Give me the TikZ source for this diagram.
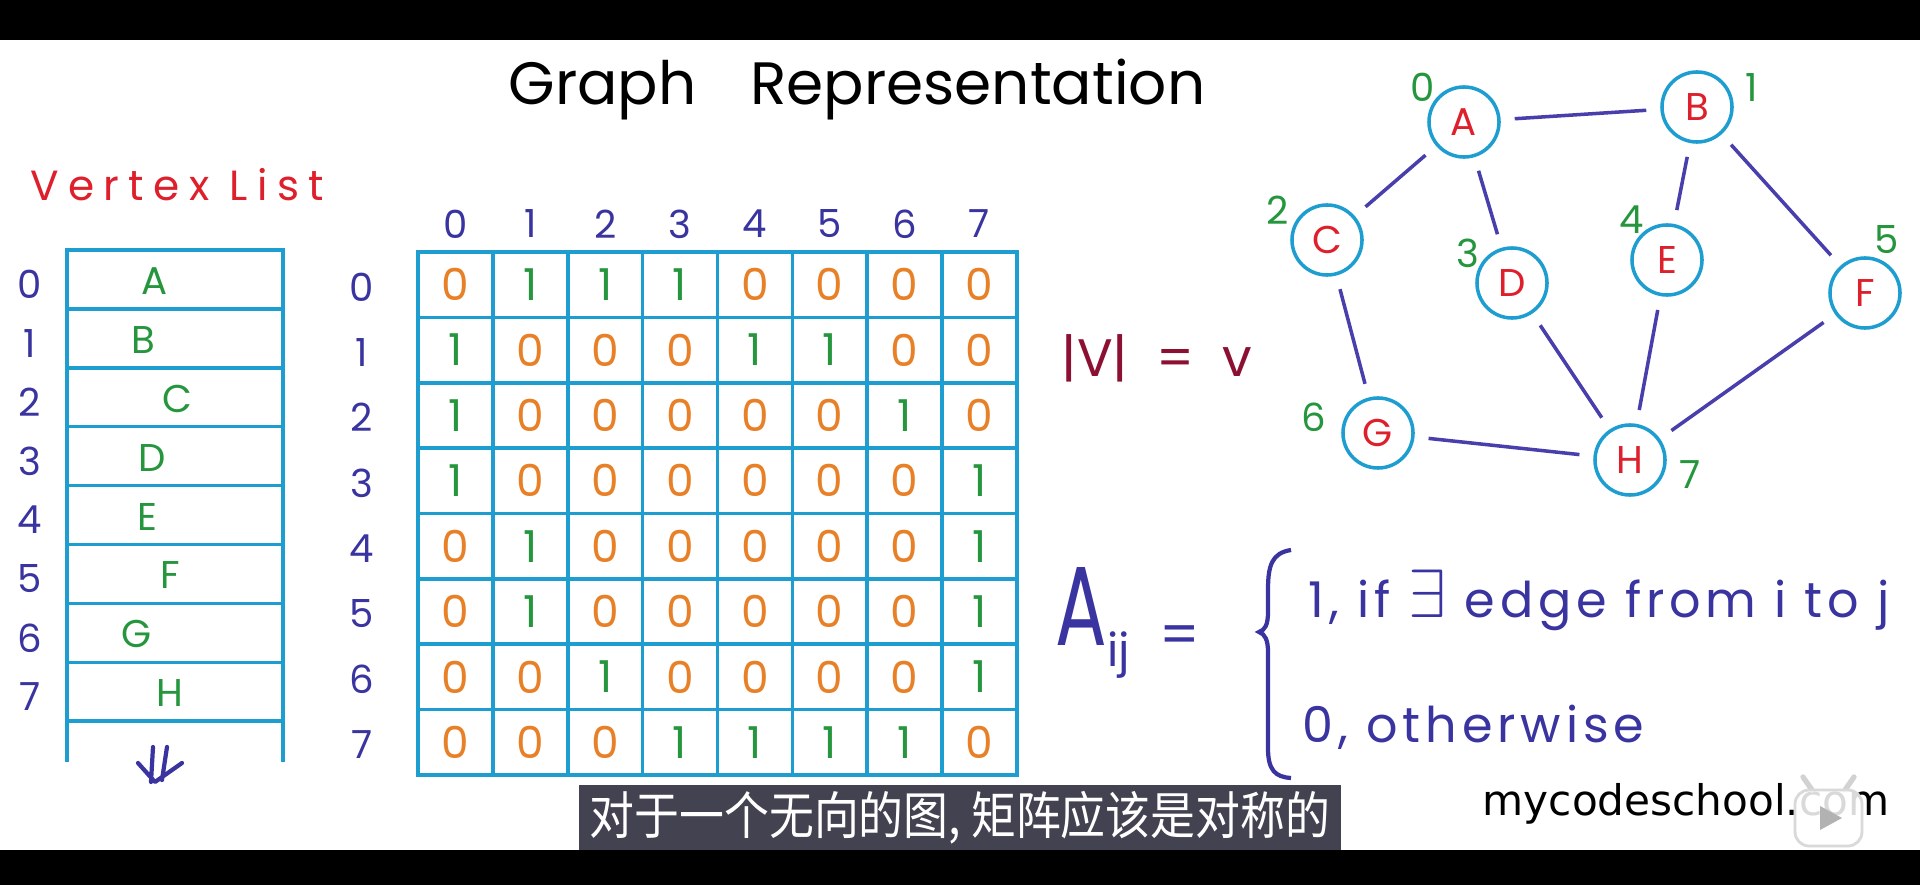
\documentclass[tikz,border=0pt]{standalone}
\usepackage{fontspec}
\setmainfont{Poppins}
\newfontfamily\cjkfont[FakeStretch=0.88]{Noto Sans CJK SC}
\newfontfamily\logofont{DejaVu Sans}
\definecolor{boxcyan}{RGB}{30,158,208}
\definecolor{idxblue}{RGB}{58,52,160}
\definecolor{onegreen}{RGB}{38,150,62}
\definecolor{zeroorange}{RGB}{232,128,40}
\definecolor{vertred}{RGB}{222,32,44}
\definecolor{sizered}{RGB}{140,16,50}
\definecolor{edgeblue}{RGB}{72,62,172}
\definecolor{subbg}{RGB}{66,66,80}

\begin{document}
\begin{tikzpicture}[x=0.01cm,y=-0.01cm,
    every node/.style={inner sep=0pt},
    idx/.style={text=idxblue,font=\fontsize{11}{11}\selectfont},
    num/.style={text=onegreen,font=\fontsize{11}{11}\selectfont},
    vtx/.style={circle,draw=boxcyan,line width=1pt,minimum size=0.7cm,text=vertred,font=\fontsize{11}{11}\selectfont},
    link/.style={edgeblue,line width=1pt,shorten <=4pt,shorten >=4pt},
    cell/.style={font=\fontsize{12.5}{12.5}\selectfont},
    hand/.style={text=idxblue,font=\fontsize{14}{14}\selectfont\addfontfeature{LetterSpace=10}}]
    \useasboundingbox (0,0) rectangle (1920,885);
    \fill[white] (0,40) rectangle (1920,850);
    \fill[black] (0,0) rectangle (1920,40);
    \fill[black] (0,850) rectangle (1920,885);

    \node[anchor=base,font=\fontsize{17}{17}\selectfont] (title) at (857,105) {Graph\hspace{0.9em}Representation};

    % vertex list
    \node[anchor=base west,text=vertred,font=\fontsize{12}{12}\selectfont\addfontfeature{LetterSpace=22}] (vlist) at (30,201) {Vertex List};
    \draw[boxcyan,line width=1pt] (67,762) -- (67,250) -- (283,250) -- (283,762);
    \foreach \i in {1,...,8} \draw[boxcyan,line width=1pt] (67,{250+58.9*\i}) -- (283,{250+58.9*\i});
    \foreach \name/\x [count=\i from 0] in {A/155,B/143,C/177,D/152,E/147,F/170,G/137,H/170} {
      \node[idx] (vi\i) at (30,{284.5+58.9*\i}) {\i};
      \node[num] (v\name) at (\x,{281+58.9*\i}) {\name};
    }
    \draw[idxblue,line width=1.2pt,line cap=round,line join=round] (153,747) -- (151,782) (167,747) -- (162,780) (138,763) -- (155,782) -- (182,763);

    % adjacency matrix
    \draw[boxcyan,line width=1pt] (418,252) rectangle (1017,775);
    \foreach \i in {1,...,7} {
      \draw[boxcyan,line width=1pt] ({418+74.875*\i},252) -- ({418+74.875*\i},775);
      \draw[boxcyan,line width=1pt] (418,{252+65.375*\i}) -- (1017,{252+65.375*\i});
    }
    \foreach \i in {0,...,7} {
      \node[idx] (col\i) at ({455.4+74.875*\i},224) {\i};
      \node[idx] (row\i) at (362,{287+65.375*\i}) {\i};
    }
    \foreach \row [count=\r from 0] in {{0,1,1,1,0,0,0,0},{1,0,0,0,1,1,0,0},{1,0,0,0,0,0,1,0},{1,0,0,0,0,0,0,1},
        {0,1,0,0,0,0,0,1},{0,1,0,0,0,0,0,1},{0,0,1,0,0,0,0,1},{0,0,0,1,1,1,1,0}} {
      \foreach \v [count=\c from 0] in \row {
        \ifnum\v=1 \def\cellcol{onegreen}\else\def\cellcol{zeroorange}\fi
        \node[cell,text=\cellcol] (m-\r-\c) at ({455.4+74.875*\c},{284.7+65.375*\r}) {\v};
      }
    }

    \node[text=sizered,font=\fontsize{15}{15}\selectfont] (vsize) at (1157,358) {|V|\ \ =\ \ v};

    % graph
    \node[vtx] (A) at (1464,122) {A};
    \node[vtx] (B) at (1697,107) {B};
    \node[vtx] (C) at (1327,240) {C};
    \node[vtx] (D) at (1512,283) {D};
    \node[vtx] (E) at (1667,260) {E};
    \node[vtx] (F) at (1865,293) {F};
    \node[vtx] (G) at (1378,433) {G};
    \node[vtx] (H) at (1630,460) {H};
    \foreach \x/\y [count=\i from 0] in {1423/87,1752/88,1278/210,1468/253,1632/220,1887/240,1314/417,1690/475}
      \node[num] (n\i) at (\x,\y) {\i};
    \foreach \a/\b in {A/B,A/C,A/D,B/E,B/F,C/G,D/H,E/H,F/H,G/H}
      \draw[link] (\a) -- (\b);

    % definition
    \node[anchor=base west,text=idxblue,font=\fontsize{32}{32}\selectfont] (aij) at (1055,645) {\scalebox{0.68}[1]{A}\raisebox{-6pt}{\fontsize{13}{13}\selectfont ij}};
    \node[text=idxblue,font=\fontsize{16}{16}\selectfont] (eq) at (1180,640) {=};
    \draw[idxblue,line width=1.2pt] (1291,550) .. controls (1272,553) and (1268,565) .. (1268,590) -- (1268,612)
      .. controls (1268,625) and (1265,630) .. (1259,632) .. controls (1265,634) and (1268,640) .. (1268,652)
      -- (1268,748) .. controls (1268,770) and (1275,777) .. (1291,778);
    \node[hand,anchor=base west] (case1) at (1308,617) {1, if \scalebox{1.35}{$\exists$} edge from i to j};
    \node[hand,anchor=base west] (case0) at (1302,742) {0, otherwise};

    \node[fill=subbg,minimum width=7.62cm,minimum height=0.65cm,text=white,font=\cjkfont\fontsize{14.5}{14.5}\selectfont] (sub) at (960,817.5) {对于一个无向的图, 矩阵应该是对称的};

    \node[anchor=base west,font=\logofont\fontsize{12}{12}\selectfont] (logo) at (1482,815) {mycodeschool.com};
    \draw[gray!35,line width=1.5pt,line cap=round] (1812,790) -- (1803,777) (1845,790) -- (1854,777);
    \filldraw[fill=white,draw=gray!30,line width=0.8pt,fill opacity=0.85,rounded corners=4pt] (1795,790) rectangle (1862,846);
    \fill[gray!60] (1820,806) -- (1820,830) -- (1842,818) -- cycle;
  \end{tikzpicture}
\end{document}
